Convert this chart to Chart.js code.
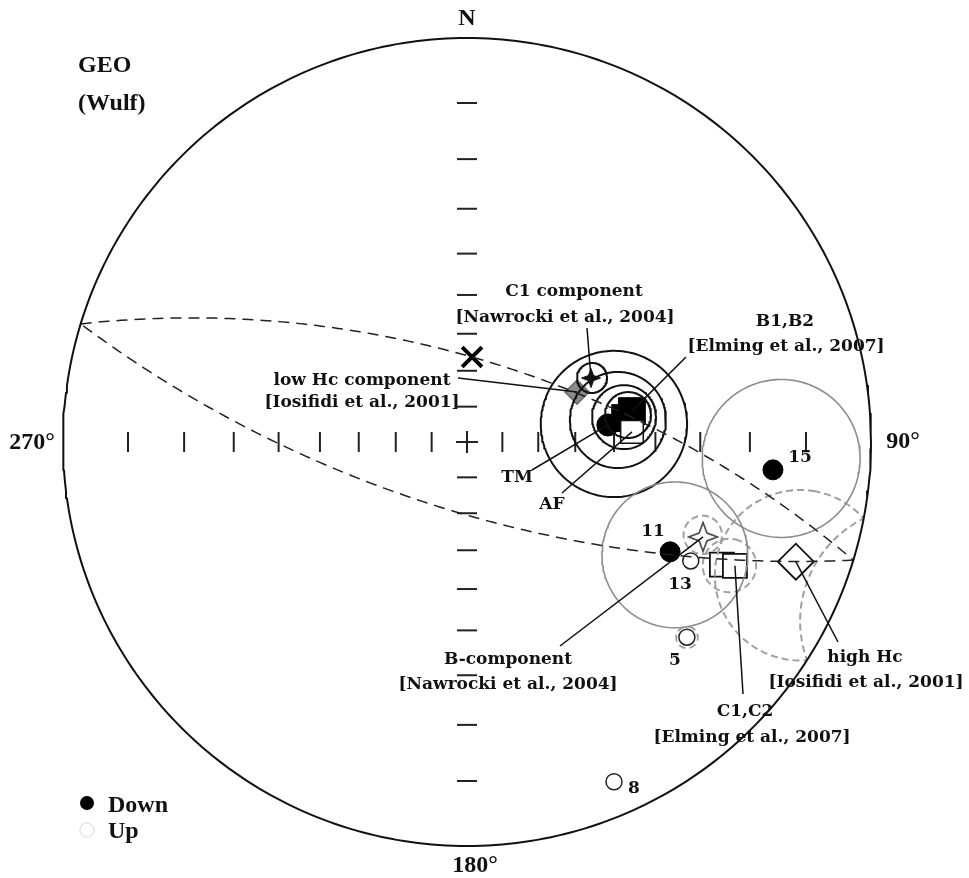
<!DOCTYPE html>
<html><head><meta charset="utf-8">
<script src="https://cdn.jsdelivr.net/npm/chart.js@4"></script>
<style>html,body{margin:0;padding:0;background:#fff}canvas{display:block}</style>
</head><body>
<canvas id="c" width="969" height="878"></canvas>
<script>
// ---------------- DATA (declination, inclination in degrees; negative inclination = upper hemisphere) -------------
const siteNames = ['5', '8', '11', '13', '15'];
const siteDec   = [131.6, 156.6, 118.4, 118.0, 95.2];
const siteInc   = [-17.9, -5.0, 30.5, -25.8, 15.5];

// reference / component directions
const starDownDec = [62.7];  const starDownInc = [51.9];   // C1 component [Nawrocki et al., 2004]
const starUpDec   = [111.9]; const starUpInc   = [-25.6];  // B-component [Nawrocki et al., 2004]
const lowHcDec    = [65.6];  const lowHcInc    = [56.7];   // low Hc component [Iosifidi et al., 2001]
const highHcDec   = [110.0]; const highHcInc   = [-8.2];   // high Hc [Iosifidi et al., 2001]
const bNames = ['B1', 'B2']; const bDec = [79.4, 81.4]; const bInc = [44.9, 46.8];      // [Elming et al., 2007]
const cNames = ['C1', 'C2']; const cDec = [115.7, 114.8]; const cInc = [-20.0, -17.7]; // [Elming et al., 2007]
const tmDec = [83.1]; const tmInc = [51.3];   // TM mean
const afDec = [86.5]; const afInc = [-45.5];  // AF mean
const xDec  = [3.4];  const xInc  = [66.2];   // cross marker

// confidence circles (alpha95)
const solidCircDec = [83.0, 81.7, 81.0, 80.5, 62.9];
const solidCircInc = [50.8, 49.1, 47.25, 46.1, 51.7];
const solidCircA95 = [18.2, 11.9, 7.85, 5.6, 3.8];
const grayCircDec  = [118.5, 93.0];   // site 11, site 15
const grayCircInc  = [30.5, 15.5];
const grayCircA95  = [15.4, 14.0];
const dashCircDec  = [111.5, 115.2, 111.8, 131.6];  // B-component, C1/C2, high Hc, site 5
const dashCircInc  = [-25.9, -18.8, -8.2, -17.9];
const dashCircA95  = [3.9, 5.0, 13.6, 2.0];

// great circles, given by their poles
const gcPoleDec = [197.0, 17.0];
const gcPoleInc = [23.2, 19.7];

// tick marks on the axes (angles from the centre)
const tickIncs = [10, 20, 30, 40, 50, 60, 70, 80];

// ---------------- projection helpers (Wulff / equal angle) ----------------
const D2R = Math.PI / 180;
function proj(dec, inc) {
  const r = Math.tan((90 - Math.abs(inc)) * D2R / 2);
  return { x: r * Math.sin(dec * D2R), y: r * Math.cos(dec * D2R) };
}
function vec(dec, inc) {
  return [Math.cos(inc*D2R)*Math.cos(dec*D2R), Math.cos(inc*D2R)*Math.sin(dec*D2R), Math.sin(inc*D2R)];
}
function cross(a, b) { return [a[1]*b[2]-a[2]*b[1], a[2]*b[0]-a[0]*b[2], a[0]*b[1]-a[1]*b[0]]; }
function norm(a) { const m = Math.hypot(a[0], a[1], a[2]); return [a[0]/m, a[1]/m, a[2]/m]; }
function toDI(v) { return { dec: Math.atan2(v[1], v[0]) / D2R, inc: Math.atan2(v[2], Math.hypot(v[0], v[1])) / D2R }; }
function smallCircle(dec, inc, a) {
  const c = vec(dec, inc);
  const t = Math.abs(c[2]) < 0.9 ? [0, 0, 1] : [1, 0, 0];
  const u = norm(cross(c, t)), v = norm(cross(c, u));
  const ca = Math.cos(a*D2R), sa = Math.sin(a*D2R), pts = [];
  for (let k = 0; k <= 180; k++) {
    const th = k * 2 * Math.PI / 180;
    const p = [0,1,2].map(i => c[i]*ca + (u[i]*Math.cos(th) + v[i]*Math.sin(th))*sa);
    const di = toDI(p); pts.push(proj(di.dec, di.inc));
  }
  return pts;
}
function greatCircle(pdec, pinc) {
  const P = vec(pdec, pinc);
  const u = norm([-P[1], P[0], 0]);
  let v = norm(cross(P, u)); if (v[2] < 0) v = v.map(x => -x);
  const pts = [];
  for (let k = 0; k <= 180; k++) {
    const th = k * D2R;
    const p = [0,1,2].map(i => u[i]*Math.cos(th) + v[i]*Math.sin(th));
    const di = toDI(p); pts.push(proj(di.dec, di.inc));
  }
  return pts;
}
const pts = (decs, incs) => decs.map((d, i) => proj(d, incs[i]));

function starImg(size, fill, stroke, lw) {
  const c = document.createElement('canvas'); c.width = c.height = size;
  const g = c.getContext('2d'); const m = size/2, R = size/2 - 1.5, r = R*0.38;
  g.beginPath();
  for (let i = 0; i < 8; i++) {
    const a = i*Math.PI/4 - Math.PI/2, rr = (i % 2) ? r : R;
    g.lineTo(m + rr*Math.cos(a), m + rr*Math.sin(a));
  }
  g.closePath(); g.fillStyle = fill; g.fill(); g.strokeStyle = stroke; g.lineWidth = lw; g.stroke();
  return c;
}

// ---------------- datasets ----------------
const ds = [];
const lineDs = (data, color, width, dash) => ({ data, showLine: true, borderColor: color, borderWidth: width,
  borderDash: dash || [], pointRadius: 0, fill: false, clip: false, tension: 0 });

// primitive
const prim = []; for (let k = 0; k <= 360; k++) prim.push(proj(k, 0));
ds.push(lineDs(prim, '#111', 2));
// great circles
gcPoleDec.forEach((d, i) => ds.push(lineDs(greatCircle(d, gcPoleInc[i]), '#222', 1.5, [11, 7])));
// confidence circles
grayCircDec.forEach((d, i) => ds.push(lineDs(smallCircle(d, grayCircInc[i], grayCircA95[i]), '#8c8c8c', 1.6)));
dashCircDec.forEach((d, i) => ds.push(lineDs(smallCircle(d, dashCircInc[i], dashCircA95[i]), '#a0a0a0', 2, [7, 4])));
solidCircDec.forEach((d, i) => ds.push(lineDs(smallCircle(d, solidCircInc[i], solidCircA95[i]), '#111', 2)));
// ticks
const nsTicks = [], ewTicks = [];
tickIncs.forEach(t => { nsTicks.push(proj(0, t), proj(180, t)); ewTicks.push(proj(90, t), proj(270, t)); });
ds.push({ data: nsTicks, pointStyle: 'line', pointRadius: 10, borderColor: '#222', borderWidth: 2, clip: false });
ds.push({ data: ewTicks, pointStyle: 'line', rotation: 90, pointRadius: 10, borderColor: '#222', borderWidth: 2, clip: false });
ds.push({ data: [{x: 0, y: 0}], pointStyle: 'cross', pointRadius: 11, borderColor: '#222', borderWidth: 2, clip: false });
// symbols
const sym = (data, style, r, bg, bc, bw, extra) => Object.assign({ data, pointStyle: style, pointRadius: r,
  backgroundColor: bg, borderColor: bc, borderWidth: bw, clip: false }, extra || {});
ds.push(sym(pts(xDec, xInc), 'crossRot', 14, '#000', '#000', 4));
ds.push(sym(pts(lowHcDec, lowHcInc), 'rectRot', 12, '#8a8a8a', '#6a6a6a', 1.5));
ds.push(sym(pts(starDownDec, starDownInc), starImg(22, '#111', '#111', 1), 11, '#000', '#000', 1));
ds.push(sym(pts(afDec, afInc), 'rect', 16, '#fff', '#111', 1.5));
ds.push(sym(pts(bDec, bInc), 'rect', 19, '#000', '#000', 1));
ds.push(sym(pts(tmDec, tmInc), 'circle', 11, '#000', '#000', 1));
ds.push(sym(pts(starUpDec, starUpInc), starImg(32, '#fff', '#444', 1.6), 16, '#fff', '#444', 1));
ds.push(sym(pts(cDec, cInc), 'rect', 17, '#fff', '#111', 1.8));
ds.push(sym(pts(highHcDec, highHcInc), 'rectRot', 18, '#fff', '#111', 1.8));
const siteDown = [], siteUp = [];
siteDec.forEach((d, i) => (siteInc[i] >= 0 ? siteDown : siteUp).push(proj(d, siteInc[i])));
ds.push(sym(siteDown, 'circle', 10, '#000', '#000', 1));
ds.push(sym(siteUp, 'circle', 8, '#fff', '#222', 1.5));
// bar inside site 13
ds.push(sym([proj(siteDec[3], siteInc[3])], 'line', 5, '#222', '#222', 1.5));

// ---------------- annotations ----------------
const LBL = 'bold 17px "DejaVu Serif"';
const BIG = 'bold 24px "Liberation Serif"';
const labels = [
  ['N', 467, 19, BIG], ['90°', 903, 442, BIG], ['270°', 32, 443, BIG], ['180°', 475, 866, BIG],
  ['C1 component', 574, 292, LBL], ['[Nawrocki et al., 2004]', 565, 318, LBL],
  ['B1,B2', 785, 322, LBL], ['[Elming et al., 2007]', 786, 347, LBL],
  ['low Hc component', 362, 381, LBL], ['[Iosifidi et al., 2001]', 362, 403, LBL],
  ['TM', 517, 478, LBL], ['AF', 552, 505, LBL],
  ['11', 653, 532, LBL], ['13', 680, 585, LBL], ['15', 800, 458, LBL], ['5', 675, 661, LBL], ['8', 634, 789, LBL],
  ['B-component', 508, 660, LBL], ['[Nawrocki et al., 2004]', 508, 685, LBL],
  ['C1,C2', 745, 712, LBL], ['[Elming et al., 2007]', 752, 738, LBL],
  ['high Hc', 865, 658, LBL], ['[Iosifidi et al., 2001]', 866, 683, LBL]
];
const leftLabels = [['GEO', 78, 66, BIG], ['(Wulf)', 78, 104, BIG], ['Down', 108, 806, BIG], ['Up', 108, 832, BIG]];
// leader lines: label end -> symbol (dec, inc)
const leaders = [
  [587, 328, starDownDec[0], starDownInc[0]],
  [686, 357, bDec[0], bInc[0]],
  [458, 378, lowHcDec[0], lowHcInc[0]],
  [532, 470, tmDec[0], tmInc[0]],
  [562, 493, afDec[0], afInc[0]],
  [560, 646, starUpDec[0], starUpInc[0]],
  [743, 694, cDec[1], cInc[1]],
  [838, 642, highHcDec[0], highHcInc[0]]
];

const annot = {
  id: 'annot',
  afterDatasetsDraw(chart) {
    const ctx = chart.ctx, xs = chart.scales.x, ys = chart.scales.y;
    ctx.save();
    ctx.strokeStyle = '#111'; ctx.lineWidth = 1.5;
    leaders.forEach(([x0, y0, d, i]) => {
      const p = proj(d, i);
      ctx.beginPath(); ctx.moveTo(x0, y0); ctx.lineTo(xs.getPixelForValue(p.x), ys.getPixelForValue(p.y)); ctx.stroke();
    });
    ctx.fillStyle = '#111'; ctx.textBaseline = 'middle';
    ctx.textAlign = 'center';
    labels.forEach(([t, x, y, f]) => { ctx.font = f; ctx.fillText(t, x, y); });
    ctx.textAlign = 'left';
    leftLabels.forEach(([t, x, y, f]) => { ctx.font = f; ctx.fillText(t, x, y); });
    // legend symbols
    ctx.beginPath(); ctx.arc(87, 803, 7, 0, 2*Math.PI); ctx.fillStyle = '#000'; ctx.fill();
    ctx.beginPath(); ctx.arc(87, 830, 7, 0, 2*Math.PI); ctx.strokeStyle = '#e6e6e6'; ctx.lineWidth = 1.5; ctx.stroke();
    ctx.restore();
  }
};

new Chart(document.getElementById('c'), {
  type: 'scatter',
  data: { datasets: ds },
  options: {
    responsive: false, animation: false, devicePixelRatio: 1,
    layout: { padding: { left: 63, right: 98, top: 38, bottom: 32 } },
    scales: {
      x: { type: 'linear', min: -1, max: 1, display: false },
      y: { type: 'linear', min: -1, max: 1, display: false }
    },
    plugins: { legend: { display: false }, tooltip: { enabled: false } },
    elements: { line: { borderJoinStyle: 'round' } }
  },
  plugins: [annot]
});
</script>
</body></html>
